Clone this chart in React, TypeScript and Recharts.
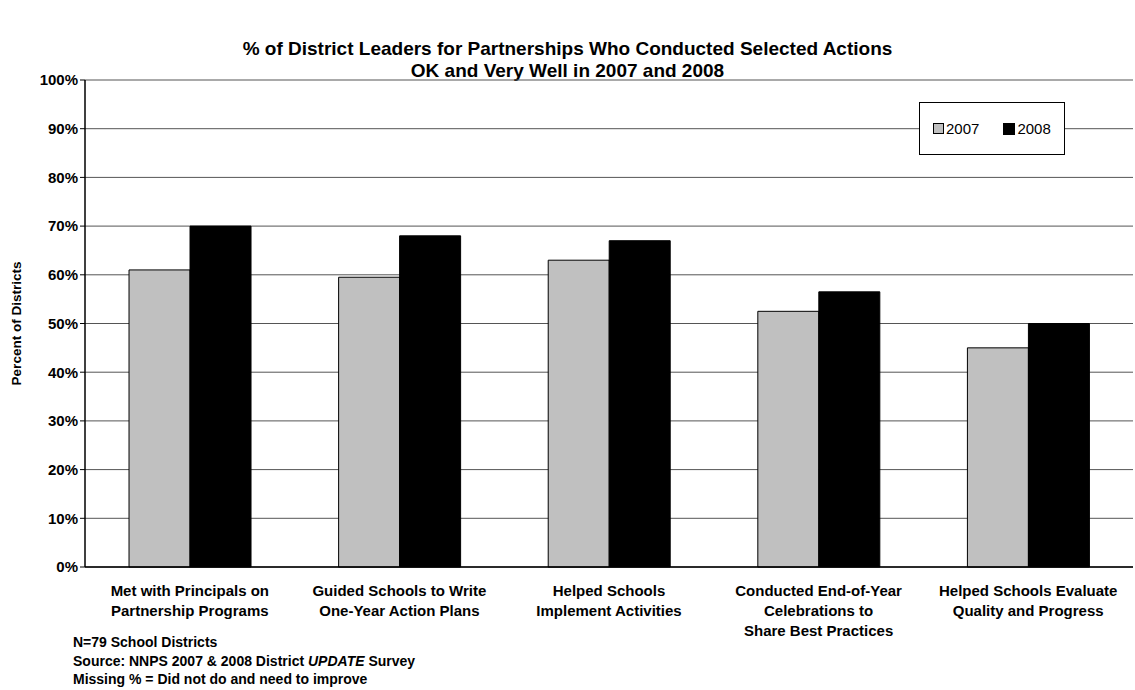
import React from 'react';
import { BarChart, Bar, XAxis, YAxis, CartesianGrid } from 'recharts';

const categories = [
  'Met with Principals on\nPartnership Programs',
  'Guided Schools to Write\nOne-Year Action Plans',
  'Helped Schools\nImplement Activities',
  'Conducted End-of-Year\nCelebrations to\nShare Best Practices',
  'Helped Schools Evaluate\nQuality and Progress',
];
const values2007 = [61, 59.5, 63, 52.5, 45];
const values2008 = [70, 68, 67, 56.5, 50];
const yTicks = [0, 10, 20, 30, 40, 50, 60, 70, 80, 90, 100];
const boundaryTicks = [0, 1, 2, 3, 4, 5];

const data = categories.map((name, i) => ({ name, y2007: values2007[i], y2008: values2008[i] }));

const FONT = '"Liberation Sans", Arial, sans-serif';

const CategoryTick = (props: any) => {
  const { x, y, payload } = props;
  const lines = String(payload.value).split('\n');
  return (
    <g transform={`translate(${x},${y})`}>
      {lines.map((l, i) => (
        <text key={i} x={0} y={21 + i * 20} textAnchor="middle" fontFamily={FONT} fontWeight="bold" fontSize={15} fill="#000">
          {l}
        </text>
      ))}
    </g>
  );
};

const LegendBox = () => (
  <div style={{ position: 'absolute', left: 919, top: 102, width: 146, height: 53, border: '1.5px solid #000', background: '#fff', display: 'flex', alignItems: 'center', fontFamily: FONT, fontSize: 15, boxSizing: 'border-box' }}>
    <span style={{ display: 'inline-block', width: 9, height: 9, background: '#c0c0c0', border: '1px solid #000', marginLeft: 13, marginRight: 2 }} />
    <span>2007</span>
    <span style={{ display: 'inline-block', width: 10, height: 10, background: '#000', border: '1px solid #000', marginLeft: 24, marginRight: 2 }} />
    <span>2008</span>
  </div>
);

export default function App() {
  return (
    <div style={{ position: 'absolute', left: 0, top: 0, width: 1135, height: 690, background: '#fff' }}>
      <div style={{ position: 'absolute', left: 0, width: 1135, top: 38, textAlign: 'center', fontFamily: FONT, fontWeight: 'bold', fontSize: 19, lineHeight: '22px' }}>
        % of District Leaders for Partnerships Who Conducted Selected Actions
        <br />
        OK and Very Well in 2007 and 2008
      </div>
      <BarChart
        width={1135}
        height={690}
        data={data}
        margin={{ top: 80, right: 2, left: 38, bottom: 63 }}
        barCategoryGap="21%"
        barGap={0}
      >
        <CartesianGrid vertical={false} stroke="#555" strokeWidth={1} />
        <XAxis
          xAxisId="bound"
          type="number"
          domain={[0, 5]}
          ticks={boundaryTicks}
          axisLine={false}
          tickLine={{ stroke: '#000' }}
          tickSize={5}
          tickFormatter={() => ''}
          height={0}
          allowDataOverflow
        />
        <XAxis
          xAxisId="cat"
          dataKey="name"
          interval={0}
          tick={<CategoryTick />}
          tickLine={false}
          axisLine={{ stroke: '#000', strokeWidth: 1.5 }}
          height={60}
        />
        <YAxis
          width={47}
          domain={[0, 100]}
          ticks={yTicks}
          tickFormatter={(v) => `${v}%`}
          tick={{ fontFamily: FONT, fontWeight: 'bold', fontSize: 15, fill: '#000' }}
          tickLine={{ stroke: '#000' }}
          tickSize={5}
          axisLine={{ stroke: '#000', strokeWidth: 1.5 }}
          label={{ value: 'Percent of Districts', angle: -90, position: 'insideLeft', offset: -22, style: { fontFamily: FONT, fontWeight: 'bold', fontSize: 13.5, fill: '#000', textAnchor: 'middle' } }}
        />
        <Bar xAxisId="cat" dataKey="y2007" name="2007" fill="#c0c0c0" stroke="#000" strokeWidth={1} isAnimationActive={false} />
        <Bar xAxisId="cat" dataKey="y2008" name="2008" fill="#000" stroke="#000" strokeWidth={1} isAnimationActive={false} />
      </BarChart>
      <LegendBox />
      <div style={{ position: 'absolute', left: 73, top: 633, fontFamily: FONT, fontWeight: 'bold', fontSize: 14, lineHeight: '18.5px' }}>
        <div>N=79 School Districts</div>
        <div>Source: NNPS 2007 &amp; 2008 District <i>UPDATE</i> Survey</div>
        <div>Missing % = Did not do and need to improve</div>
      </div>
    </div>
  );
}
